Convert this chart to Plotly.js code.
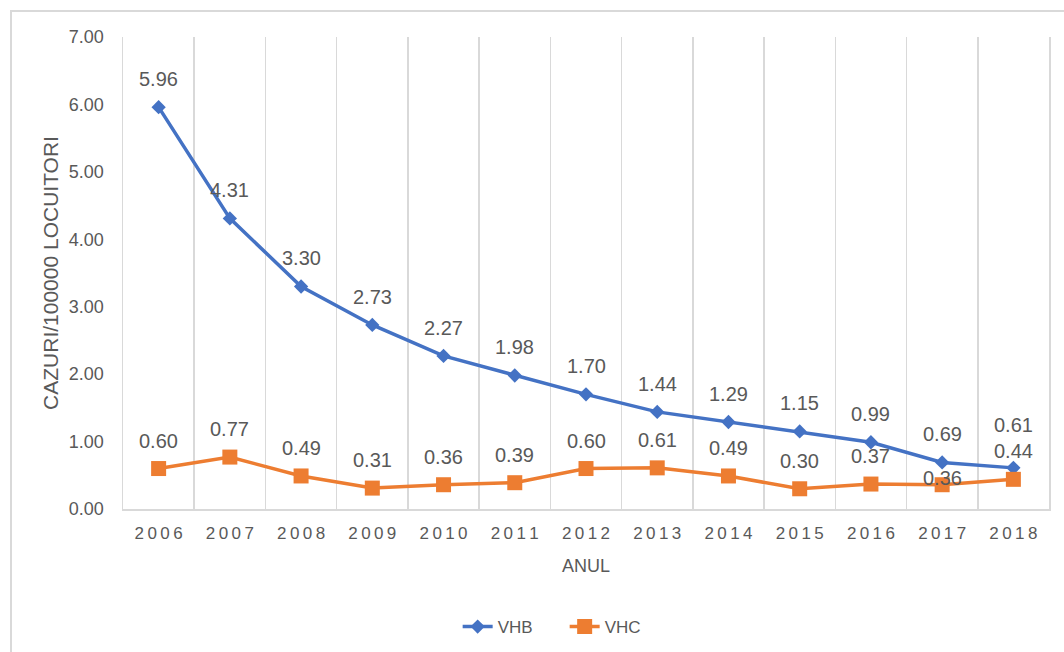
<!DOCTYPE html>
<html>
<head>
<meta charset="utf-8">
<script src="https://cdn.plot.ly/plotly-3.0.1.min.js"></script>
<style>
  html, body { margin: 0; padding: 0; background: #ffffff; overflow: hidden; }
  #frame { position: absolute; left: 10px; top: 10px; width: 1100px; height: 700px; border: 2px solid #d9d9d9; }
  #chart { position: absolute; left: 0; top: 0; width: 1064px; height: 652px; }
</style>
</head>
<body>
<div id="frame"></div>
<div id="chart"></div>
<script>
// ---- data ----
const years = ['2006','2007','2008','2009','2010','2011','2012','2013','2014','2015','2016','2017','2018'];
const yearTickLabels = ['2\u20090\u20090\u20096','2\u20090\u20090\u20097','2\u20090\u20090\u20098','2\u20090\u20090\u20099','2\u20090\u20091\u20090','2\u20090\u20091\u20091','2\u20090\u20091\u20092','2\u20090\u20091\u20093','2\u20090\u20091\u20094','2\u20090\u20091\u20095','2\u20090\u20091\u20096','2\u20090\u20091\u20097','2\u20090\u20091\u20098'];
const vhb = [5.96, 4.31, 3.30, 2.73, 2.27, 1.98, 1.70, 1.44, 1.29, 1.15, 0.99, 0.69, 0.61];
const vhc = [0.60, 0.77, 0.49, 0.31, 0.36, 0.39, 0.60, 0.61, 0.49, 0.30, 0.37, 0.36, 0.44];
const yTickVals = [0, 1, 2, 3, 4, 5, 6, 7];

// ---- styling ----
const BLUE = '#4472C4';
const ORANGE = '#ED7D31';
const TEXT = '#595959';
const GRID = '#d9d9d9';
const FONT = 'Liberation Sans, Arial, sans-serif';

const traces = [
  {
    x: years, y: vhb, name: 'VHB', type: 'scatter', mode: 'lines+markers',
    line: { color: BLUE, width: 3.5 },
    marker: { symbol: 'diamond', size: 11, color: BLUE },
    hoverinfo: 'x+y'
  },
  {
    x: years, y: vhc, name: 'VHC', type: 'scatter', mode: 'lines+markers',
    line: { color: ORANGE, width: 3.5 },
    marker: { symbol: 'square', size: 15, color: ORANGE },
    hoverinfo: 'x+y'
  }
];

// data labels (Excel-style, above the point); x given as category index
const DEFAULT_SHIFT = 28;
const shiftOverride = { VHB: { 12: 43 }, VHC: { 11: 7 } };
const annotations = [];
[['VHB', vhb], ['VHC', vhc]].forEach(([name, arr]) => {
  arr.forEach((v, i) => {
    const s = (shiftOverride[name] && shiftOverride[name][i] !== undefined) ? shiftOverride[name][i] : DEFAULT_SHIFT;
    annotations.push({
      x: i, y: v, xref: 'x', yref: 'y',
      text: v.toFixed(2), showarrow: false,
      xanchor: 'center', yanchor: 'middle', yshift: s,
      font: { family: FONT, size: 20, color: TEXT }
    });
  });
});

const layout = {
  width: 1064, height: 652,
  margin: { l: 123, r: 15, t: 37, b: 143, autoexpand: false },
  paper_bgcolor: 'rgba(0,0,0,0)',
  plot_bgcolor: '#ffffff',
  font: { family: FONT, color: TEXT },
  showlegend: true,
  legend: {
    orientation: 'h', x: 0.3614, xanchor: 'left', y: -0.25, yanchor: 'middle',
    font: { family: FONT, size: 17, color: TEXT },
    entrywidth: 62, entrywidthmode: 'pixels', tracegroupgap: 0
  },
  xaxis: {
    type: 'category',
    range: [-0.5, 12.5],
    tickmode: 'array', tickvals: years, ticktext: yearTickLabels,
    tickson: 'boundaries',
    ticks: '', showgrid: true, gridcolor: GRID, gridwidth: 1.5,
    showline: true, linecolor: GRID, linewidth: 2,
    tickfont: { family: FONT, size: 17, color: TEXT },
    ticklabelstandoff: 8,
    zeroline: false, automargin: false,
    title: { text: 'ANUL', font: { family: FONT, size: 18, color: TEXT }, standoff: 17 },
    fixedrange: true
  },
  yaxis: {
    range: [0, 7],
    tickmode: 'array', tickvals: yTickVals,
    tickformat: '.2f',
    showgrid: false, zeroline: false,
    showline: true, mirror: true, linecolor: GRID, linewidth: 1.5,
    ticks: '',
    tickfont: { family: FONT, size: 18, color: TEXT },
    ticklabelstandoff: 14, automargin: false,
    title: { text: 'CAZURI/100000 LOCUITORI', font: { family: FONT, size: 21, color: TEXT }, standoff: 4 },
    fixedrange: true
  },
  annotations: annotations
};

Plotly.newPlot('chart', traces, layout, { displayModeBar: false, staticPlot: true });
</script>
</body>
</html>
